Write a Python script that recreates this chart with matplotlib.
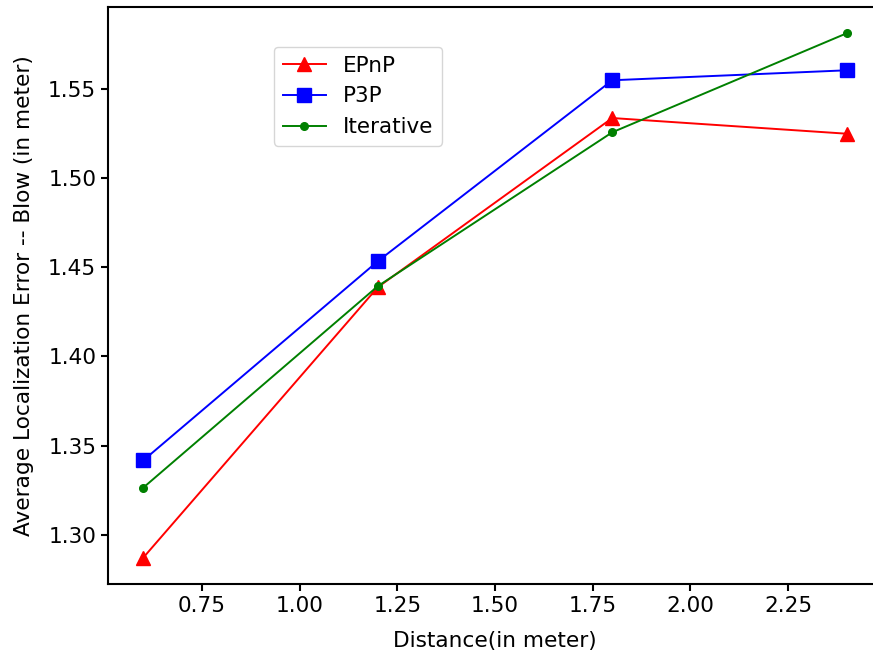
import matplotlib
matplotlib.use("Agg")
import matplotlib.pyplot as plt

distance = [0.6, 1.2, 1.8, 2.4]
epnp = [1.287, 1.4388, 1.5338, 1.525]
p3p = [1.3416, 1.4534, 1.555, 1.5606]
iterative = [1.3263, 1.4394, 1.5258, 1.5814]

W, H = 873, 654
fig = plt.figure(figsize=(W/100, H/100), dpi=100)
ax = fig.add_axes([108/W, (H-584)/H, (882-108)/W, (584-7)/H])
for s in ax.spines.values():
    s.set_linewidth(1.5)
ax.spines['right'].set_visible(False)
ax.plot(distance, epnp, color='red', marker='^', markersize=10, lw=1.4, label='EPnP')
ax.plot(distance, p3p, color='blue', marker='s', markersize=10, lw=1.4, label='P3P')
ax.plot(distance, iterative, color='green', marker='.', markersize=11, lw=1.4, label='Iterative')
ax.set_xlabel('Distance(in meter)', fontsize=15.6, labelpad=11)
ax.set_ylabel('Average Localization Error -- Blow (in meter)', fontsize=15.6, labelpad=10)
ax.tick_params(labelsize=15.6, width=1.5, length=5)
ax.legend(loc='upper left', bbox_to_anchor=((274-108)/774, (584-47)/577),
          borderaxespad=0, fontsize=15.5, handlelength=2.0)
fig.savefig('out.png', dpi=100)
